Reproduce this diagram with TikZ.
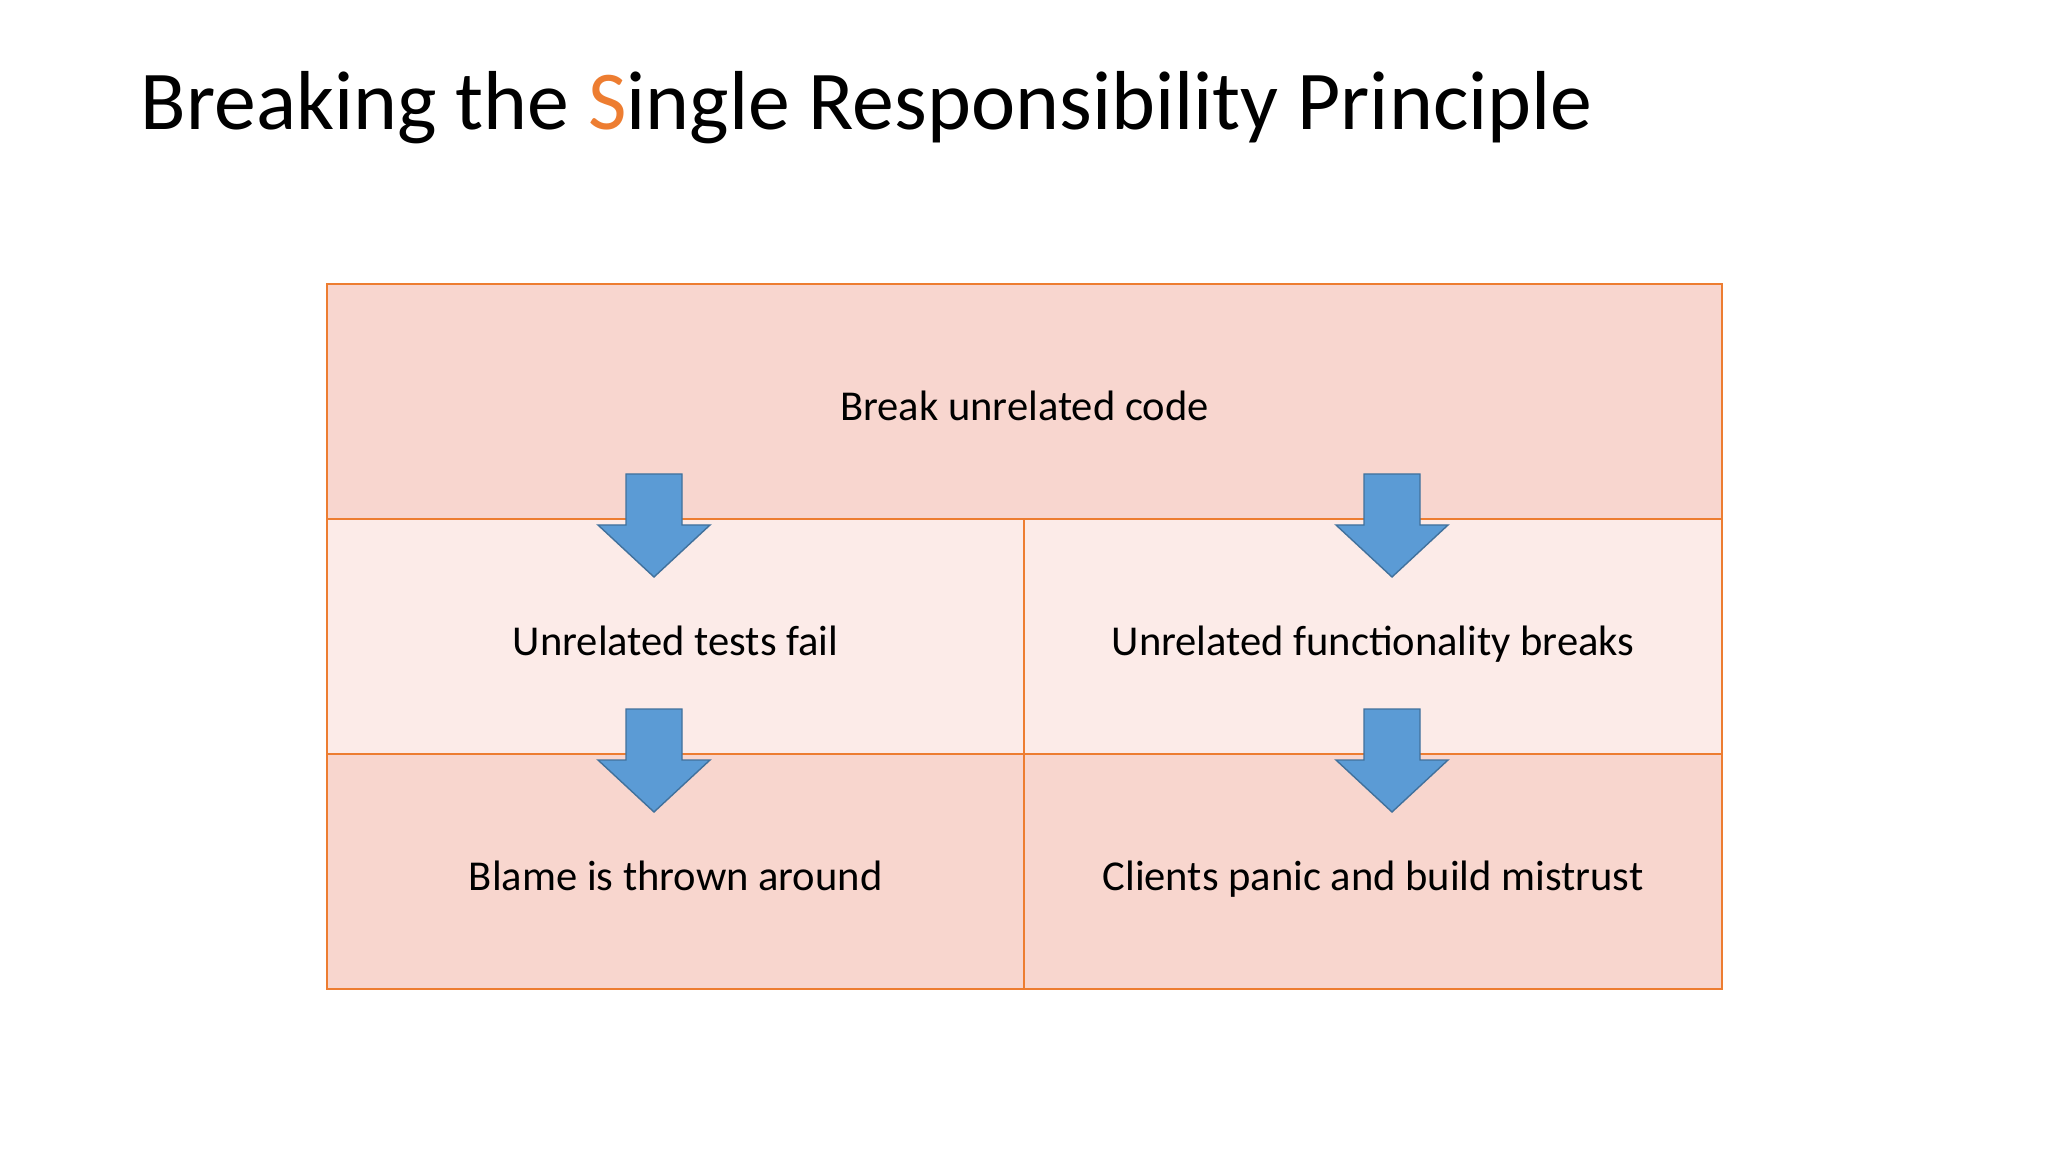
\documentclass[tikz,border=0pt]{standalone}
\usepackage{fontspec}
\setmainfont{Carlito}
\definecolor{srpline}{HTML}{ED7D31}
\definecolor{toprow}{HTML}{F8D6CF}
\definecolor{midrow}{HTML}{FCEBE8}
\definecolor{botrow}{HTML}{F8D6CE}
\definecolor{arrowfill}{HTML}{5B9BD5}
\definecolor{arrowline}{HTML}{41719C}

\begin{document}
\begin{tikzpicture}[x=0.01cm,y=-0.01cm,
    cell/.style={draw=srpline,line width=0.6pt,minimum width=6.97cm,minimum height=2.35cm,inner sep=0pt,outer sep=0pt,text height=10.6pt,text depth=0pt,font=\fontsize{12.1}{14.5}\selectfont},
    downarrow/.pic={\draw[fill=arrowfill,draw=arrowline,line width=0.4pt] (-28,-51) -- (28,-51) -- (28,0) -- (56,0) -- (0,52) -- (-56,0) -- (-28,0) -- cycle;}]
      \useasboundingbox (0,0) rectangle (2048,1152);
      \node[anchor=base west,inner sep=0pt,font=\fontsize{23.8}{28.5}\selectfont] (title) at (140,130) {Breaking the \textcolor{srpline}{S}ingle Responsibility Principle};
      \node[cell,fill=toprow,minimum width=13.94cm,anchor=north west] (unrelated) at (327,284) {Break unrelated code};
      \node[cell,fill=midrow,anchor=north west] (testsfail) at (unrelated.south west) {Unrelated tests fail};
      \node[cell,fill=midrow,anchor=north west] (funcbreaks) at (testsfail.north east) {Unrelated functionality breaks};
      \node[cell,fill=botrow,anchor=north west] (blame) at (testsfail.south west) {Blame is thrown around};
      \node[cell,fill=botrow,anchor=north west] (clients) at (blame.north east) {Clients panic and build mistrust};
      % arrows between the rows
      \pic at (654,525) {downarrow};
      \pic at (1392,525) {downarrow};
      \pic at (654,760) {downarrow};
      \pic at (1392,760) {downarrow};
    \end{tikzpicture}
\end{document}
